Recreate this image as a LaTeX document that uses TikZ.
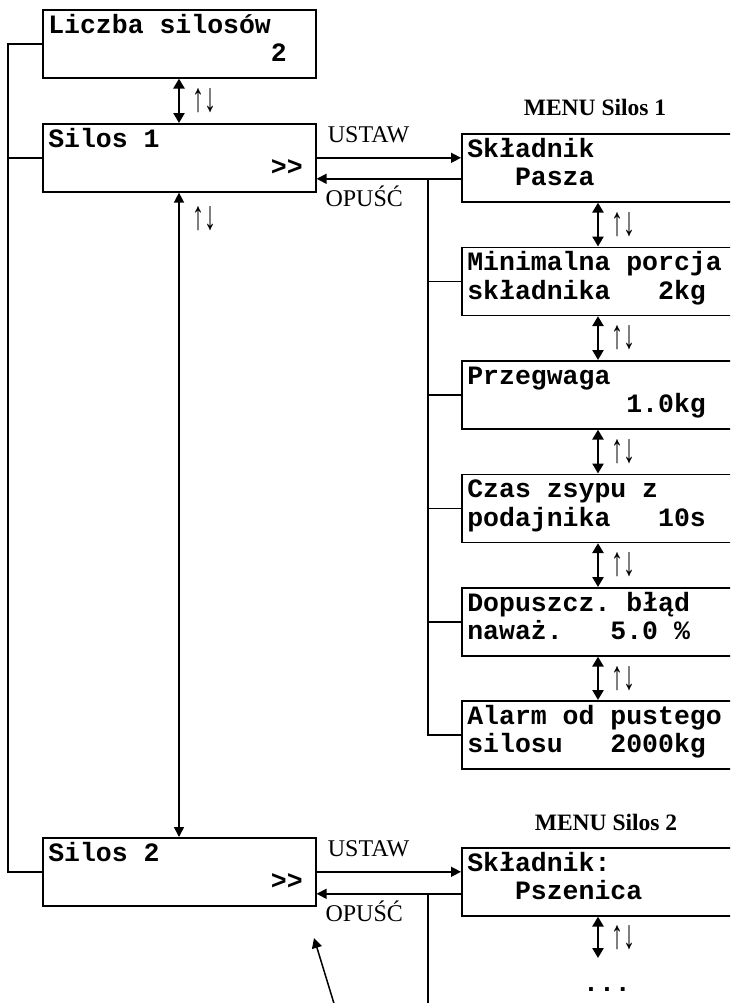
\documentclass[tikz,border=0pt]{standalone}
\usepackage{fontspec}
\usepackage{graphicx}
\setmainfont{Liberation Serif}
\setmonofont{Liberation Mono}
\usetikzlibrary{arrows.meta, positioning}

\newcommand{\lcdsp}[1]{\hspace*{#1\dimexpr0.6em\relax}}
\newcommand{\lcdfont}{\ttfamily\bfseries\fontsize{13.25}{14.25}\selectfont}
\newcommand{\updn}{\scalebox{1}[1.7]{↑↓}}

\begin{document}
\begin{tikzpicture}[x=0.5pt, y=-0.5pt,
    lcd/.style={draw, line width=0.8pt, anchor=north west, align=left, inner xsep=2.75pt, inner ysep=0pt, text height=11.75pt, text depth=22.25pt, font=\lcdfont},
    leftbox/.style={lcd, text width=131pt},
    menubox/.style={lcd, text width=134.5pt},
    wire/.style={line width=0.75pt},
    arrow/.style={-{Triangle[length=5pt, width=5pt]}, line width=0.75pt},
    scroll/.style={{Triangle[length=5pt, width=5.5pt]}-{Triangle[length=5pt, width=5.5pt]}, line width=1.3pt},
    longscroll/.style={{Triangle[length=5pt, width=5pt]}-{Triangle[length=5pt, width=5pt]}, line width=0.75pt},
    key/.style={font=\fontsize{12}{14}\selectfont},
    updown/.style={font=\fontsize{12}{14}\selectfont, right=3pt},
    title/.style={font=\bfseries\fontsize{11.75}{14}\selectfont, anchor=base}
]
\useasboundingbox (0,0) rectangle (730,1003);
\clip (0,0) rectangle (730,1003);

% main menu
\node[leftbox] (liczba) at (42,9) {Liczba\lcdsp{1}silosów\\\lcdsp{14}2};
\node[leftbox] (silos1) at (42,123) {Silos\lcdsp{1}1\\\lcdsp{14}>{}>};
\node[leftbox] (silos2) at (42,837) {Silos\lcdsp{1}2\\\lcdsp{14}>{}>};

% menu silos 1
\node[title] (menu1) at (595,115) {MENU Silos 1};
\node[menubox] (skladnik1) at (461,133) {Składnik\\\lcdsp{3}Pasza};
\node[menubox] (porcja) at (461,246.5) {Minimalna\lcdsp{1}porcja\\składnika\lcdsp{3}2kg};
\node[menubox] (przegwaga) at (461,360) {Przegwaga\\\lcdsp{10}1.0kg};
\node[menubox] (zsyp) at (461,473.5) {Czas\lcdsp{1}zsypu\lcdsp{1}z\\podajnika\lcdsp{3}10s};
\node[menubox] (blad) at (461,587) {Dopuszcz.\lcdsp{1}błąd\\naważ.\lcdsp{3}5.0\lcdsp{1}\%};
\node[menubox] (alarm) at (461,700) {Alarm\lcdsp{1}od\lcdsp{1}pustego\\silosu\lcdsp{3}2000kg};

% menu silos 2
\node[title] (menu2) at (606,830) {MENU Silos 2};
\node[menubox] (skladnik2) at (461,847) {Składnik:\\\lcdsp{3}Pszenica};
\node[font=\lcdfont, anchor=base] (dots) at (607,991) {...};

\coordinate (bus) at (8,0);
\coordinate (branch1) at (428,0);
\coordinate (branch2) at (428,1010);
\coordinate (more) at (598,958);
\coordinate (ptail) at (336,1010);
\coordinate (ptip) at (314,938);

% left bus
\draw[wire] (liczba.west) -- (liczba.west -| bus) -- (silos2.west -| bus) -- (silos2.west);
\draw[wire] (silos1.west) -- (silos1.west -| bus);

% scrolling
\draw[scroll] ([xshift=68.5pt]liczba.south west) -- ([xshift=68.5pt]silos1.north west) node[midway, updown] {\updn};
\draw[longscroll] ([xshift=68.5pt]silos1.south west) -- ([xshift=68.5pt]silos2.north west) node[pos=0.04, updown] {\updn};
\draw[scroll] ([xshift=68.5pt]skladnik1.south west) -- ([xshift=68.5pt]porcja.north west) node[midway, updown] {\updn};
\draw[scroll] ([xshift=68.5pt]porcja.south west) -- ([xshift=68.5pt]przegwaga.north west) node[midway, updown] {\updn};
\draw[scroll] ([xshift=68.5pt]przegwaga.south west) -- ([xshift=68.5pt]zsyp.north west) node[midway, updown] {\updn};
\draw[scroll] ([xshift=68.5pt]zsyp.south west) -- ([xshift=68.5pt]blad.north west) node[midway, updown] {\updn};
\draw[scroll] ([xshift=68.5pt]blad.south west) -- ([xshift=68.5pt]alarm.north west) node[midway, updown] {\updn};
\draw[scroll] ([xshift=68.5pt]skladnik2.south west) -- (more) node[midway, updown] {\updn};

% enter / leave silos 1
\draw[arrow] (silos1.east) -- (silos1.east -| skladnik1.west) node[pos=0.36, above=4pt, key] {USTAW};
\draw[arrow] ([yshift=-5.5pt]skladnik1.west) -- ([yshift=-5.5pt]skladnik1.west -| silos1.east) node[pos=0.67, below, key] {OPUŚĆ};
\draw[wire] ([yshift=-5.5pt]skladnik1.west -| branch1) -- (alarm.west -| branch1) -- (alarm.west);
\draw[wire] (porcja.west) -- (porcja.west -| branch1);
\draw[wire] (przegwaga.west) -- (przegwaga.west -| branch1);
\draw[wire] (zsyp.west) -- (zsyp.west -| branch1);
\draw[wire] (blad.west) -- (blad.west -| branch1);

% enter / leave silos 2
\draw[arrow] (silos2.east) -- (silos2.east -| skladnik2.west) node[pos=0.36, above=4pt, key] {USTAW};
\draw[arrow] ([yshift=-6pt]skladnik2.west) -- ([yshift=-6pt]skladnik2.west -| silos2.east) node[pos=0.67, below, key] {OPUŚĆ};
\draw[wire] ([yshift=-6pt]skladnik2.west -| branch2) -- (branch2);

\draw[arrow] (ptail) -- (ptip);

\end{tikzpicture}
\end{document}
